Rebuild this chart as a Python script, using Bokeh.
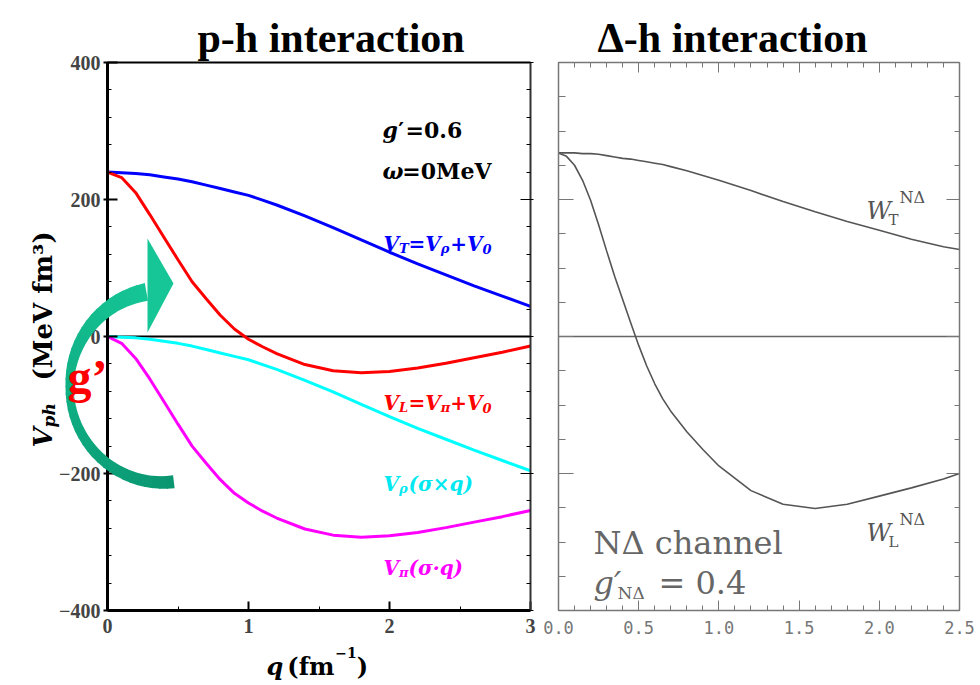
import math
import numpy as np
from bokeh.plotting import figure
from bokeh.models import (Label, LinearAxis, FixedTicker, PolyAnnotation,
                          CustomJSTickFormatter)
from bokeh.layouts import row
from bokeh.embed import file_html
from bokeh.resources import INLINE

# ---------------- data ----------------
q_ph = [0.0, 0.1, 0.2, 0.3, 0.4, 0.5, 0.6, 0.7, 0.8, 0.9, 1.0, 1.1, 1.2,
        1.4, 1.6, 1.8, 2.0, 2.2, 2.4, 2.6, 2.8, 3.0]
V_T = [240, 239, 238, 236, 233, 230, 226, 221, 216, 211, 206, 199, 192,
       176, 159, 141, 123, 106, 90, 74, 59, 44]
V_L = [240, 232, 210, 178, 145, 112, 80, 55, 31, 11, -4, -15, -25,
       -41, -50, -53, -51, -46, -39, -31, -23, -14]
V_rho = [0, -1, -2, -4, -7, -10, -14, -19, -24, -29, -34, -41, -48,
         -64, -81, -99, -117, -134, -150, -166, -181, -196]
V_pi = [0, -10, -32, -62, -95, -128, -160, -185, -209, -229, -243, -255, -265,
        -281, -290, -293, -291, -286, -279, -271, -263, -254]

q_dh = [0.0, 0.05, 0.1, 0.15, 0.2, 0.25, 0.3, 0.35, 0.4, 0.45, 0.5, 0.55, 0.6,
        0.65, 0.7, 0.8, 0.9, 1.0, 1.2, 1.4, 1.6, 1.8, 2.0, 2.2, 2.4, 2.5]
W_T = [268, 268, 268, 267, 267, 266, 264, 262, 260, 259, 257, 255, 253,
       251, 248, 242, 235, 228, 213, 197, 182, 168, 155, 142, 131, 127]
W_L = [268, 263, 250, 228, 199, 163, 125, 88, 54, 20, -13, -43, -69,
       -91, -109, -139, -165, -189, -225, -245, -251, -245, -233, -221, -208, -200]

y_ticks = [-400, -200, 0, 200, 400]
y_tick_labels = ["\u2212400", "\u2212200", "0", "200", "400"]
y_minor_ph = list(range(-400, 401, 40))
y_minor_dh = list(range(-400, 401, 50))
x_ticks_ph = [0, 1, 2, 3]
x_minor_ph = [0.5, 1.5, 2.5]
x_ticks_dh = [0.0, 0.5, 1.0, 1.5, 2.0, 2.5]
x_tick_labels_dh = ["0.0", "0.5", "1.0", "1.5", "2.0", "2.5"]
x_minor_dh = [round(0.1 * i, 1) for i in range(26)]

# ---------------- geometry helpers (pixel -> data) ----------------
# each panel's frame covers its whole part of the page so that titles,
# the arrow and the labels can sit anywhere; axes are drawn at fixed
# data locations.
L_X0, L_FW, L_FH, Y_ZERO = 107, 423, 548, 336
R_X0, R_FW = 558, 401
W1, W2, H = 540, 440, 685


def lx(px):
    return (px - L_X0) / L_FW * 3.0


def rx(px):
    return (px - R_X0) / R_FW * 2.5


def ly(py):
    return (Y_ZERO - py) / L_FH * 800.0


EM = {'V': .78, 'T': .72, 'L': .72, '=': .84, '+': .84, ' ': .35, '(': .47,
      ')': .47, 'σ': .72, '×': .84, '·': .38, 'q': .72, 'ρ': .72, 'π': .72,
      '0': .70, 'g': .72, '′': .33, '.': .38, '6': .70, 'ω': .9, 'M': 1.0,
      'e': .68, 'N': .87, 'Δ': .8, 'f': .47, 'm': 1.06, '−': .84, '1': .70,
      '4': .70, 'W': 1.1, 'p': .72, 'h': .72, '³': .44}


def est_w(text, size):
    return sum(EM.get(c, .7) for c in text) * size


def seq(fig, px0, segs, xconv, font="DejaVu Serif", color="black"):
    x = px0
    for text, size, py, style in segs:
        fig.add_layout(Label(x=xconv(x), y=ly(py), text=text, text_font=font,
                             text_font_size=f"{size}px", text_font_style=style,
                             text_color=color, text_align="left",
                             text_baseline="alphabetic"))
        x += est_w(text, size)


def blank():
    return CustomJSTickFormatter(code="return ''")


# ---------------- left panel ----------------
p1 = figure(frame_width=W1, frame_height=H, min_border_left=0,
            min_border_right=0, min_border_top=0, min_border_bottom=0,
            x_range=(lx(0), lx(W1)), y_range=(ly(H), ly(0)),
            x_axis_location=None, y_axis_location=None,
            toolbar_location=None, output_backend="svg")
p1.xgrid.visible = False
p1.ygrid.visible = False
p1.outline_line_color = None

ya = LinearAxis(fixed_location=0, bounds=(-400, 400),
                ticker=FixedTicker(ticks=y_ticks, minor_ticks=y_minor_ph),
                major_label_overrides={t: l for t, l in zip(y_ticks, y_tick_labels)},
                axis_line_width=3, major_tick_in=10, major_tick_out=4,
                minor_tick_in=4, minor_tick_out=0, major_tick_line_width=2,
                major_label_standoff=3, major_label_text_font="Liberation Serif",
                major_label_text_font_style="bold",
                major_label_text_font_size="20px")
p1.add_layout(ya, "left")

xa = LinearAxis(fixed_location=-400, bounds=(0, 3),
                ticker=FixedTicker(ticks=x_ticks_ph, minor_ticks=x_minor_ph),
                axis_line_width=3, major_tick_in=9, major_tick_out=0,
                minor_tick_in=4, minor_tick_out=0, major_tick_line_width=2,
                major_label_standoff=8, major_label_text_font="Liberation Serif",
                major_label_text_font_style="bold",
                major_label_text_font_size="20px")
p1.add_layout(xa, "below")

ra = LinearAxis(fixed_location=3, bounds=(-400, 400),
                ticker=FixedTicker(ticks=y_ticks, minor_ticks=y_minor_ph),
                formatter=blank(), axis_line_color="#333333", axis_line_width=2,
                major_tick_in=10, major_tick_out=3, minor_tick_in=4,
                minor_tick_out=0, major_label_standoff=0)
p1.add_layout(ra, "right")

ta = LinearAxis(fixed_location=400, bounds=(0, 3),
                ticker=FixedTicker(ticks=x_ticks_ph, minor_ticks=x_minor_ph),
                formatter=blank(), axis_line_color="black", axis_line_width=2,
                major_tick_in=0, major_tick_out=0, minor_tick_in=0,
                minor_tick_out=0, major_label_standoff=0)
p1.add_layout(ta, "above")

# zero reference line across the data range
p1.segment(x0=[x_ticks_ph[0]], y0=[0], x1=[x_ticks_ph[-1]], y1=[0],
           line_color="black", line_width=2)

p1.line(q_ph, V_T, line_color="#0000ff", line_width=3)
p1.line(q_ph, V_L, line_color="#ff0000", line_width=3)
p1.line(q_ph, V_rho, line_color="#00ffff", line_width=3)
p1.line(q_ph, V_pi, line_color="#ff00ff", line_width=3)

# title
p1.add_layout(Label(x=lx(197), y=ly(37), text="p-h interaction",
                    text_font="Liberation Serif", text_font_style="bold",
                    text_font_size="42px", text_color="black",
                    text_baseline="alphabetic"))

# curved green arrow (decoration, built in pixel space)
CX, CY, RX, RY = 162, 386, 93, 96
th_knots = [100, 180, 277]
w_knots = [18, 8, 13]
c_top = np.array([22, 198, 150])
c_bot = np.array([10, 150, 112])
NSEG = 40
thetas = np.linspace(100, 277, NSEG + 1)
for i in range(NSEG):
    t0, t1 = thetas[i], min(thetas[i + 1] + 0.6, 277)
    xs, ys = [], []
    for t in (t0, t1):
        w = np.interp(t, th_knots, w_knots)
        a = math.radians(t)
        xs.append(CX + (RX + w / 2) * math.cos(a))
        ys.append(CY - (RY + w / 2) * math.sin(a))
    for t in (t1, t0):
        w = np.interp(t, th_knots, w_knots)
        a = math.radians(t)
        xs.append(CX + (RX - w / 2) * math.cos(a))
        ys.append(CY - (RY - w / 2) * math.sin(a))
    f = (0.5 * (t0 + t1) - 100) / 177
    c = (c_top * (1 - f) + c_bot * f).astype(int)
    col = "#%02x%02x%02x" % tuple(c)
    p1.add_layout(PolyAnnotation(xs=[lx(v) for v in xs], ys=[ly(v) for v in ys],
                                 fill_color=col, fill_alpha=1.0,
                                 line_color=None))
p1.add_layout(PolyAnnotation(xs=[lx(147), lx(173), lx(147)],
                             ys=[ly(238), ly(283), ly(332)],
                             fill_color="#16c696", fill_alpha=1.0,
                             line_color=None))

# g' mark
p1.add_layout(Label(x=lx(67), y=ly(376), text="g\u2019", text_color="#ff0000",
                    text_font="Liberation Serif", text_font_style="bold",
                    text_font_size="48px", text_baseline="alphabetic"))

# annotations inside left panel
seq(p1, 382, [("g", 22, 129, "bold italic"), ("\u2032", 22, 129, "bold"),
              ("=0.6", 22, 129, "bold")], lx)
seq(p1, 382, [("\u03c9", 22, 170, "bold italic"), ("=0MeV", 22, 170, "bold")], lx)
seq(p1, 383, [("V", 20, 243, "bold italic"), ("T", 13, 248, "bold italic"),
              ("=V", 20, 243, "bold italic"), ("\u03c1", 13, 248, "bold italic"),
              ("+V", 20, 243, "bold italic"), ("0", 13, 248, "bold italic")],
    lx, color="#0000ff")
seq(p1, 383, [("V", 20, 402, "bold italic"), ("L", 13, 407, "bold italic"),
              ("=V", 20, 402, "bold italic"), ("\u03c0", 13, 407, "bold italic"),
              ("+V", 20, 402, "bold italic"), ("0", 13, 407, "bold italic")],
    lx, color="#ff0000")
seq(p1, 383, [("V", 20, 483, "bold italic"), ("\u03c1", 13, 488, "bold italic"),
              (" (\u03c3\u00d7q)", 20, 483, "bold italic")], lx, color="#00e8f0")
seq(p1, 383, [("V", 20, 567, "bold italic"), ("\u03c0", 13, 572, "bold italic"),
              (" (\u03c3\u00b7q)", 20, 567, "bold italic")], lx, color="#ff00ff")

# rotated y-axis label
for txt, size, py0, bx, style in [("V", 26, 447, 42, "bold italic"),
                                   ("ph", 17, 427, 48, "bold italic"),
                                   ("(MeV fm\u00b3)", 26, 380, 42, "bold")]:
    p1.add_layout(Label(x=lx(bx), y=ly(py0), text=txt, angle=math.pi / 2,
                        text_font="DejaVu Serif", text_font_style=style,
                        text_font_size=f"{size}px", text_align="left",
                        text_baseline="alphabetic", text_color="black"))

# x-axis label
seq(p1, 266, [("q", 24, 666, "bold italic"), (" ", 10, 666, "bold"),
              ("(fm", 24, 666, "bold"), ("\u22121", 14, 652, "bold"),
              (")", 24, 666, "bold")], lx)

# ---------------- right panel ----------------
GRAY = "#555555"
AX = "#777777"
p2 = figure(frame_width=W2, frame_height=H, min_border_left=0,
            min_border_right=0, min_border_top=0, min_border_bottom=0,
            x_range=(rx(W1), rx(W1 + W2)), y_range=(ly(H), ly(0)),
            x_axis_location=None, y_axis_location=None,
            toolbar_location=None, output_backend="svg")
p2.xgrid.visible = False
p2.ygrid.visible = False
p2.outline_line_color = None

xb = LinearAxis(fixed_location=-400, bounds=(0, 2.5),
                ticker=FixedTicker(ticks=x_ticks_dh, minor_ticks=x_minor_dh),
                major_label_overrides={t: l for t, l in zip(x_ticks_dh, x_tick_labels_dh)},
                axis_line_color=AX, axis_line_width=1.5,
                major_tick_line_color=AX, minor_tick_line_color=AX,
                major_tick_in=10, major_tick_out=0, minor_tick_in=5,
                minor_tick_out=0, major_label_standoff=10,
                major_label_text_font="DejaVu Sans Mono",
                major_label_text_font_size="17px",
                major_label_text_color="#777777")
p2.add_layout(xb, "below")

xt = LinearAxis(fixed_location=400, bounds=(0, 2.5),
                ticker=FixedTicker(ticks=x_ticks_dh, minor_ticks=x_minor_dh),
                formatter=blank(), axis_line_color=AX, axis_line_width=1.5,
                major_tick_line_color=AX, minor_tick_line_color=AX,
                major_tick_in=10, major_tick_out=0, minor_tick_in=5,
                minor_tick_out=0, major_label_standoff=0)
p2.add_layout(xt, "above")

yb = LinearAxis(fixed_location=0, bounds=(-400, 400),
                ticker=FixedTicker(ticks=y_ticks, minor_ticks=y_minor_dh),
                formatter=blank(), axis_line_color=AX, axis_line_width=1.5,
                major_tick_line_color=AX, minor_tick_line_color=AX,
                major_tick_in=15, major_tick_out=0, minor_tick_in=7,
                minor_tick_out=0, major_label_standoff=0)
p2.add_layout(yb, "left")

rb = LinearAxis(fixed_location=2.5, bounds=(-400, 400),
                ticker=FixedTicker(ticks=y_ticks, minor_ticks=y_minor_dh),
                formatter=blank(), axis_line_color=AX, axis_line_width=1.5,
                major_tick_line_color=AX, minor_tick_line_color=AX,
                major_tick_in=13, major_tick_out=0, minor_tick_in=5,
                minor_tick_out=0, major_label_standoff=0)
p2.add_layout(rb, "right")

p2.segment(x0=[x_ticks_dh[0]], y0=[0], x1=[x_ticks_dh[-1]], y1=[0],
           line_color="#666666", line_width=1.5)
p2.line(q_dh, W_T, line_color=GRAY, line_width=1.6)
p2.line(q_dh, W_L, line_color=GRAY, line_width=1.6)

p2.add_layout(Label(x=rx(597), y=ly(37), text="\u0394-h interaction",
                    text_font="Liberation Serif", text_font_style="bold",
                    text_font_size="42px", text_color="black",
                    text_baseline="alphabetic"))

# right panel labels
for base, sub in [(210, "T"), (532, "L")]:
    p2.add_layout(Label(x=rx(866), y=ly(base), text="W", text_font="DejaVu Serif",
                        text_font_style="italic", text_font_size="24px",
                        text_color=GRAY, text_baseline="alphabetic"))
    p2.add_layout(Label(x=rx(888), y=ly(base + 9), text=sub,
                        text_font="DejaVu Serif", text_font_size="15px",
                        text_color=GRAY, text_baseline="alphabetic"))
    p2.add_layout(Label(x=rx(899), y=ly(base - 13), text="N\u0394",
                        text_font="DejaVu Serif", text_font_size="16px",
                        text_color=GRAY, text_baseline="alphabetic"))

p2.add_layout(Label(x=rx(593), y=ly(542), text="N\u0394 channel",
                    text_font="DejaVu Serif", text_font_size="32px",
                    text_color="#666666", text_baseline="alphabetic"))
p2.add_layout(Label(x=rx(593), y=ly(582), text="g\u2032",
                    text_font="DejaVu Serif", text_font_style="italic",
                    text_font_size="32px", text_color="#666666",
                    text_baseline="alphabetic"))
p2.add_layout(Label(x=rx(617), y=ly(592), text="N\u0394",
                    text_font="DejaVu Serif", text_font_size="17px",
                    text_color="#666666", text_baseline="alphabetic"))
p2.add_layout(Label(x=rx(658), y=ly(582), text="= 0.4",
                    text_font="DejaVu Serif", text_font_size="32px",
                    text_color="#666666", text_baseline="alphabetic"))

layout = row(p1, p2)
open("out.html", "w").write(file_html(layout, INLINE))
